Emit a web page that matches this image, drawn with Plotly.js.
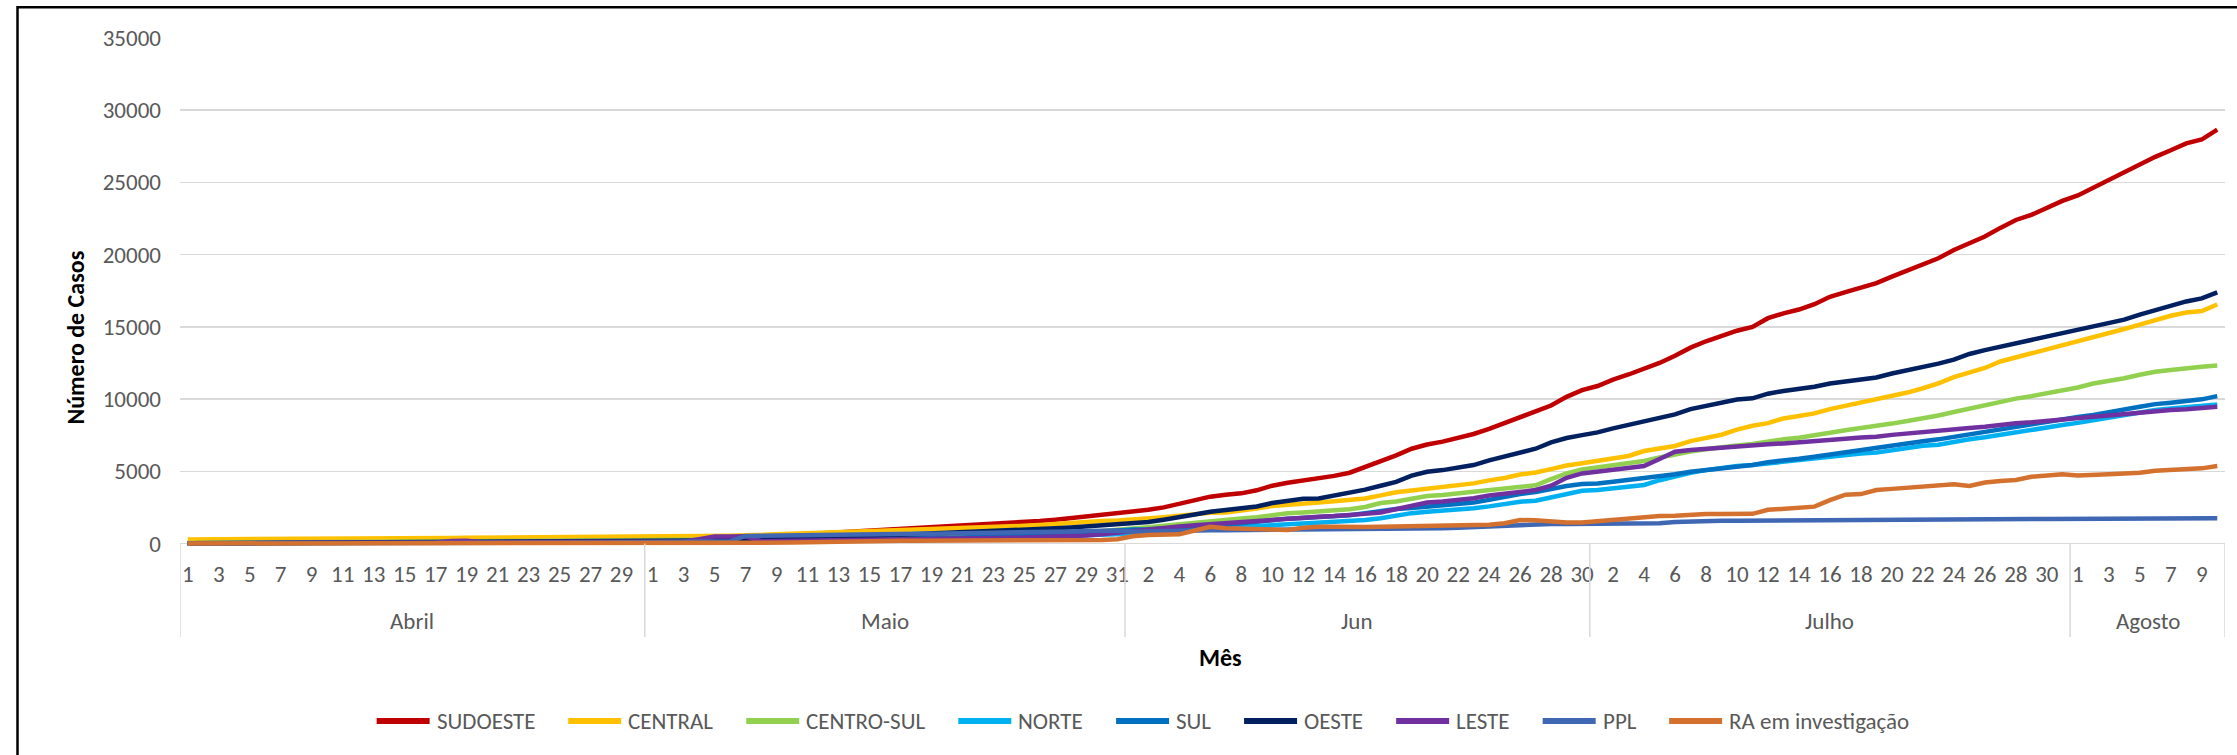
<!DOCTYPE html>
<html>
<head>
<meta charset="utf-8">
<script src="https://cdn.plot.ly/plotly-3.0.1.min.js"></script>
<style>
html, body { margin: 0; padding: 0; background: #fff; }
#chart { width: 2237px; height: 755px; }
</style>
</head>
<body>
<div id="chart"></div>
<script>
// ---------------- DATA ----------------
const year = 2020;
const months = ['Abril', 'Maio', 'Jun', 'Julho', 'Agosto'];
const monthNumbers = [4, 5, 6, 7, 8];
const monthDays = [30, 31, 30, 31, 10];

const seriesNames = ['SUDOESTE', 'CENTRAL', 'CENTRO-SUL', 'NORTE', 'SUL', 'OESTE', 'LESTE', 'PPL', 'RA em investigação'];
const seriesColors = ['#C00000', '#FFC000', '#92D050', '#00B0F0', '#0070C0', '#002060', '#7030A0', '#3F67B3', '#D4712F'];

const sudoeste = [
  20,25,30,35,40,48,55,62,70,78,85,92,100,110,118,125,135,145,155,165,175,185,195,205,218,230,245,260,275,290,
  310,330,350,375,400,430,460,500,540,590,640,700,760,830,900,960,1000,1050,1100,1150,1210,1270,1330,1400,1480,1560,1650,1760,1900,2050,2130,
  2230,2330,2500,2720,2950,3240,3380,3470,3680,4000,4200,4350,4500,4680,4900,5280,5700,6100,6560,6850,7050,7300,7580,7930,8320,8780,9100,9550,10150,10620,
  10900,11350,11700,12080,12500,13000,13560,14000,14380,14730,15000,15600,15930,16200,16570,17080,17400,17720,18030,18480,18900,19350,19750,20320,20780,21250,21850,22400,22750,23250,23720,
  24100,24650,25150,25720,26300,26770,27230,27700,27970,28660
];
const central = [
  280,290,298,305,312,318,325,330,336,342,348,353,358,363,368,373,378,383,388,393,398,403,408,413,418,424,430,436,442,448,
  455,465,478,492,510,535,565,600,640,665,690,715,745,775,805,835,870,905,940,980,1020,1070,1120,1170,1220,1280,1360,1440,1510,1550,1590,
  1650,1720,1820,1920,2030,2130,2140,2260,2420,2600,2700,2790,2830,2920,3030,3120,3330,3550,3670,3800,3920,4050,4160,4370,4530,4780,4910,5150,5400,5560,
  5710,5870,6060,6400,6560,6750,7090,7310,7530,7880,8150,8330,8660,8820,9010,9300,9530,9740,9960,10200,10450,10750,11080,11520,11850,12150,12600,12880,13100,13420,13700,
  14000,14270,14540,14850,15150,15470,15770,15990,16090,16550
];
const centroSul = [
  30,35,40,45,50,55,60,66,72,78,84,90,96,102,108,115,122,129,136,143,150,157,164,171,178,186,194,202,210,218,
  226,235,244,254,264,275,286,298,310,323,336,350,365,380,396,413,430,450,470,492,515,540,567,595,625,660,700,745,800,860,930,
  1020,1120,1230,1340,1450,1550,1650,1730,1810,1950,2090,2150,2200,2280,2370,2530,2800,2900,3110,3280,3360,3470,3590,3710,3820,3930,4030,4450,4850,5130,
  5270,5430,5540,5710,5950,6190,6360,6520,6690,6790,6890,7060,7210,7320,7510,7670,7840,8000,8120,8300,8480,8640,8860,9100,9340,9550,9790,10030,10200,10380,10580,
  10800,11080,11250,11440,11680,11890,12010,12160,12240,12330
];
const norte = [
  10,12,14,16,18,20,23,26,29,32,35,38,41,44,48,52,56,60,64,68,72,76,80,85,90,95,100,105,110,115,
  120,126,132,139,146,154,162,171,180,190,200,211,222,234,247,261,276,292,309,327,346,366,388,412,438,466,496,528,562,600,640,
  700,790,850,900,960,1010,1070,1120,1180,1250,1330,1390,1440,1490,1550,1620,1740,1920,2100,2190,2260,2350,2440,2570,2730,2890,2960,3200,3470,3650,
  3710,3820,3930,4050,4380,4670,4900,5080,5230,5360,5430,5550,5660,5770,5890,6010,6120,6230,6290,6450,6580,6760,6830,7050,7220,7350,7530,7700,7860,8060,8200,
  8350,8540,8680,8850,9060,9240,9350,9460,9540,9630
];
const sul = [
  5,7,9,11,13,15,17,19,22,25,28,31,34,37,40,43,46,49,52,55,58,61,64,67,70,73,76,79,82,85,
  90,97,105,114,124,135,147,160,174,189,205,222,240,259,279,300,322,345,369,394,420,447,475,505,537,572,610,680,760,840,920,
  960,990,1040,1100,1150,1200,1270,1400,1530,1630,1720,1770,1810,1880,1960,2100,2270,2380,2450,2540,2610,2700,2830,3020,3240,3420,3570,3780,3980,4120,
  4160,4280,4390,4510,4620,4790,4970,5080,5190,5320,5430,5630,5730,5860,6010,6170,6300,6490,6580,6750,6900,7080,7210,7390,7560,7700,7880,8040,8220,8410,8580,
  8760,8900,9050,9270,9470,9650,9750,9860,9980,10200
];
const oeste = [
  15,18,21,24,27,30,34,38,42,46,50,54,58,62,66,70,75,80,85,90,95,100,106,112,118,124,130,137,144,151,
  158,170,185,200,220,240,262,285,310,338,368,400,435,472,510,550,592,636,682,730,770,810,850,885,930,990,1050,1110,1180,1250,1300,
  1400,1480,1640,1800,2000,2200,2330,2440,2560,2800,2960,3100,3120,3300,3510,3730,4000,4260,4700,4970,5080,5250,5430,5750,6010,6280,6560,7000,7300,7500,
  7690,7970,8220,8430,8710,8940,9300,9540,9740,9970,10050,10370,10560,10710,10850,11080,11240,11350,11490,11770,11980,12180,12450,12730,13120,13390,13620,13920,14080,14340,14600,
  14780,15070,15260,15500,15850,16160,16390,16760,16970,17380
];
const leste = [
  20,22,25,28,31,34,37,40,43,46,50,54,58,62,66,70,75,170,180,90,92,95,98,101,104,107,110,113,116,120,
  125,130,135,300,480,490,495,160,170,180,190,200,212,224,236,250,265,280,296,313,331,350,370,392,416,442,470,500,560,640,760,
  880,1000,1090,1180,1260,1340,1420,1470,1530,1640,1740,1800,1850,1900,1950,2050,2150,2400,2600,2830,2900,3010,3130,3320,3470,3590,3700,4000,4550,4850,
  4970,5090,5240,5360,5850,6350,6470,6560,6650,6740,6760,6870,6930,7000,7050,7160,7250,7340,7390,7520,7630,7720,7790,7900,8000,8090,8220,8320,8390,8500,8620,
  8680,8780,8860,8970,9080,9170,9240,9300,9360,9470
];
const ppl = [
  0,0,0,0,0,0,0,0,0,0,0,0,0,0,0,2,5,8,10,15,20,25,30,35,40,50,60,70,80,90,
  100,110,120,130,140,150,520,540,560,570,590,600,620,630,640,650,660,670,680,690,700,710,720,740,760,780,800,830,860,880,900,
  820,850,880,900,910,910,915,920,925,930,935,940,945,950,960,970,980,990,1000,1020,1050,1090,1130,1170,1250,1320,1340,1350,1350,1350,
  1360,1370,1380,1390,1400,1480,1530,1550,1565,1575,1585,1595,1600,1605,1610,1615,1625,1630,1640,1645,1650,1660,1665,1675,1680,1685,1690,1695,1700,1700,1705,
  1710,1715,1720,1730,1745,1745,1740,1740,1742,1745
];
const raInvestigacao = [
  0,0,0,0,0,0,0,0,0,0,0,0,0,0,0,0,0,0,5,5,5,5,5,10,10,10,10,15,15,20,
  25,30,30,35,35,40,40,45,50,60,80,110,140,160,170,180,185,190,190,190,195,200,205,210,215,220,225,230,235,240,290,
  500,580,610,630,900,1160,1060,1020,980,935,940,1090,1160,1150,1120,1140,1165,1180,1200,1230,1260,1280,1280,1290,1400,1620,1610,1520,1450,1450,
  1540,1620,1730,1850,1900,1920,2010,2040,2040,2040,2050,2330,2390,2480,2550,3000,3380,3420,3700,3780,3850,3920,4030,4100,3980,4220,4330,4390,4620,4690,4800,
  4700,4780,4800,4840,4900,5040,5090,5130,5200,5360
];
const seriesValues = [sudoeste, central, centroSul, norte, sul, oeste, leste, ppl, raInvestigacao];

const yTickValues = [0, 5000, 10000, 15000, 20000, 25000, 30000, 35000];
const yTitle = 'Número de Casos';
const xTitle = 'Mês';

// ---------------- LAYOUT HELPERS ----------------
const FONT = 'Carlito, Calibri, Lato, "Liberation Sans", sans-serif';
const W = 2237, H = 755;
const plotLeft = 180, plotRight = 2225, plotTop = 37.7, plotBottom = 546;
const yMin = -175, yMax = 35000;
const pw = plotRight - plotLeft, ph = plotBottom - plotTop;
const px2x = px => (px - plotLeft) / pw;
const py2y = py => (plotBottom - py) / ph;
const valueToPy = v => plotBottom - (v - yMin) / (yMax - yMin) * ph;

// categories (days) as dates
const DAY = 86400000;
const dates = [], dayNums = [];
const monthStartMs = [];
months.forEach((m, k) => {
  monthStartMs.push(Date.UTC(year, monthNumbers[k] - 1, 1));
  for (let d = 1; d <= monthDays[k]; d++) {
    dates.push(Date.UTC(year, monthNumbers[k] - 1, d));
    dayNums.push(d);
  }
});
const tickVals = dates.filter((_, i) => i % 2 === 0);
const tickText = dayNums.filter((_, i) => i % 2 === 0).map(String);
const xStart = dates[0] - DAY / 2, xEnd = dates[dates.length - 1] + DAY / 2;

// ---------------- TRACES ----------------
const traces = seriesNames.map((name, s) => ({
  type: 'scatter', mode: 'lines', name: name,
  x: dates, y: seriesValues[s],
  line: { color: seriesColors[s], width: 4.5, shape: 'linear' },
  showlegend: false, hoverinfo: 'x+y+name'
}));

// ---------------- SHAPES & ANNOTATIONS ----------------
const shapes = [], annotations = [];
const gray = '#D9D9D9', textGray = '#595959';
const zeroPy = valueToPy(0);

// month separators
const bounds = [];
let idx = 0;
monthDays.forEach((n, k) => { bounds.push(dates[idx] - DAY / 2); idx += n; });
bounds.push(xEnd);
bounds.forEach(b => shapes.push({
  type: 'line', xref: 'x', yref: 'paper', x0: b, x1: b,
  y0: py2y(zeroPy), y1: py2y(637), line: { color: gray, width: 1.5 }
}));
// month labels
months.forEach((m, k) => annotations.push({
  xref: 'x', yref: 'paper', x: (bounds[k] + bounds[k + 1]) / 2, y: py2y(621.5),
  text: m, showarrow: false, xanchor: 'center', yanchor: 'middle',
  font: { family: FONT, size: 23, color: textGray }
}));
// axis titles
annotations.push({
  xref: 'paper', yref: 'paper', x: px2x(75.5), y: py2y(338), text: '<b>' + yTitle + '</b>',
  textangle: -90, showarrow: false, xanchor: 'center', yanchor: 'middle',
  font: { family: FONT, size: 24, color: '#000000' }
});
annotations.push({
  xref: 'paper', yref: 'paper', x: px2x(1220), y: py2y(658), text: '<b>' + xTitle + '</b>',
  showarrow: false, xanchor: 'center', yanchor: 'middle',
  font: { family: FONT, size: 24, color: '#000000' }
});

// legend (drawn as line samples + labels, laid out from measured text widths)
const LEG_SIZE = 23, lineLen = 53, lineGap = 5, itemGap = 35, legCenterX = 1142, legY = 721;
const ctx = document.createElement('canvas').getContext('2d');
ctx.font = LEG_SIZE + 'px ' + FONT;
const widths = seriesNames.map(n => ctx.measureText(n).width);
const total = widths.reduce((a, w) => a + lineLen + lineGap + w, 0) + itemGap * (seriesNames.length - 1);
let cx = legCenterX - total / 2;
seriesNames.forEach((n, s) => {
  shapes.push({
    type: 'line', xref: 'paper', yref: 'paper', x0: px2x(cx), x1: px2x(cx + lineLen),
    y0: py2y(legY), y1: py2y(legY), line: { color: seriesColors[s], width: 6 }
  });
  annotations.push({
    xref: 'paper', yref: 'paper', x: px2x(cx + lineLen + lineGap), y: py2y(legY),
    text: n, showarrow: false, xanchor: 'left', yanchor: 'middle',
    font: { family: FONT, size: LEG_SIZE, color: textGray }
  });
  cx += lineLen + lineGap + widths[s] + itemGap;
});

// chart border (left and top edges visible)
shapes.push({
  type: 'path', xref: 'paper', yref: 'paper',
  path: `M ${px2x(17.5)} ${py2y(800)} L ${px2x(17.5)} ${py2y(7)} L ${px2x(2300)} ${py2y(7)}`,
  line: { color: '#000000', width: 2.5 }
});

const layout = {
  width: W, height: H,
  margin: { l: plotLeft, r: W - plotRight, t: plotTop, b: H - plotBottom, pad: 0 },
  paper_bgcolor: '#ffffff', plot_bgcolor: '#ffffff',
  showlegend: false,
  font: { family: FONT, size: 23, color: textGray },
  xaxis: {
    type: 'date', range: [xStart, xEnd],
    tickmode: 'array', tickvals: tickVals, ticktext: tickText,
    showgrid: false, zeroline: false, showline: false, ticks: '',
    ticklabelstandoff: 12, tickangle: 0,
    tickfont: { family: FONT, size: 23, color: textGray }
  },
  yaxis: {
    range: [yMin, yMax], tickmode: 'array', tickvals: yTickValues,
    ticktext: yTickValues.map(String),
    showgrid: true, gridcolor: gray, gridwidth: 1.5,
    zeroline: true, zerolinecolor: gray, zerolinewidth: 1.5,
    showline: false, ticks: '', ticklabelstandoff: 18,
    tickfont: { family: FONT, size: 23, color: textGray }
  },
  shapes: shapes, annotations: annotations
};

Plotly.newPlot('chart', traces, layout, { displayModeBar: false, staticPlot: true });
</script>
</body>
</html>
